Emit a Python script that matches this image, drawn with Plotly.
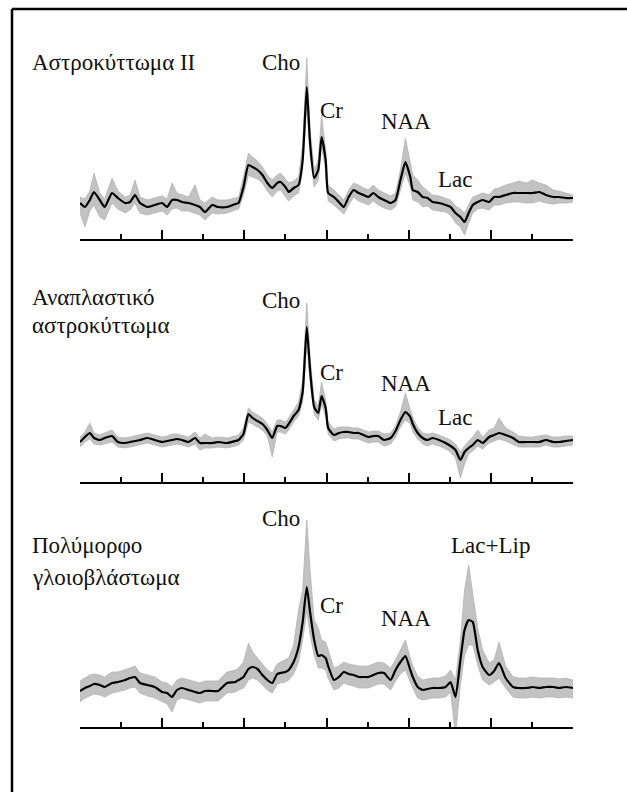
import plotly.graph_objects as go

# chemical shift (ppm) sampling positions, shared by the three spectra
PPM = [6.00, 5.94, 5.88, 5.83, 5.76, 5.70, 5.61, 5.54, 5.45, 5.39,
       5.33, 5.27, 5.18, 5.09, 5.00, 4.94, 4.88, 4.82, 4.76, 4.68,
       4.60, 4.54, 4.48, 4.39, 4.32, 4.21, 4.11, 4.07, 4.01, 3.95,
       3.90, 3.84, 3.78, 3.72, 3.66, 3.60, 3.56, 3.50, 3.46, 3.40,
       3.34, 3.29, 3.24, 3.20, 3.15, 3.10, 3.06, 3.01, 2.98, 2.91,
       2.85, 2.79, 2.73, 2.67, 2.61, 2.55, 2.49, 2.43, 2.37, 2.30,
       2.22, 2.16, 2.10, 2.04, 1.98, 1.95, 1.89, 1.83, 1.77, 1.71,
       1.63, 1.55, 1.49, 1.43, 1.37, 1.32, 1.27, 1.22, 1.16, 1.10,
       1.02, 0.96, 0.90, 0.82, 0.73, 0.66, 0.57, 0.49, 0.41, 0.33,
       0.24, 0.17, 0.09, 0.00]

# Panel 1: Αστροκύττωμα II (fitted / smoothed spectrum and raw-noise envelope)
P1_FIT = [2, -2, 5, 13, 5, -2, 12, 7, 2, 3,
          10, 2, -2, 0, 2, -2, 5, 5, 3, 2,
          0, -2, -7, 0, -2, -2, 1, 2, 18, 40,
          38, 35, 30, 22, 17, 22, 23, 18, 13, 17,
          20, 45, 118, 62, 27, 35, 68, 45, 12, 8,
          3, -2, 8, 15, 12, 10, 8, 12, 8, 5,
          2, 5, 25, 43, 28, 15, 13, 8, 7, 3,
          2, 0, -2, -8, -12, -17, -8, 0, 3, 5,
          3, 8, 8, 10, 12, 12, 12, 12, 13, 10,
          8, 8, 7, 7]
P1_HI = [8, 6, 14, 32, 12, 6, 27, 14, 8, 10,
         25, 8, 5, 7, 9, 6, 22, 12, 10, 8,
         20, 5, 2, 8, 5, 5, 7, 8, 28, 52,
         48, 44, 38, 30, 25, 30, 32, 26, 22, 24,
         28, 60, 147, 75, 35, 45, 90, 55, 20, 15,
         10, 5, 15, 22, 20, 17, 15, 20, 15, 12,
         9, 12, 35, 67, 40, 30, 25, 18, 14, 10,
         9, 7, 5, -1, -4, -8, 0, 8, 10, 12,
         10, 16, 17, 20, 22, 24, 22, 25, 22, 20,
         15, 14, 12, 10]
P1_LO = [-8, -22, -6, 0, -12, -15, 2, -4, -8, -5,
         2, -8, -10, -8, -6, -10, -4, -3, -6, -6,
         -8, -10, -15, -8, -9, -8, -5, -4, 10, 30,
         28, 26, 22, 14, 8, 14, 15, 8, 4, 9,
         12, 35, 100, 50, 18, 25, 58, 35, 4, 0,
         -5, -9, 0, 8, 4, 2, 0, 4, 0, -3,
         -5, -2, 16, 32, 18, 5, 3, -2, -1, -5,
         -6, -7, -10, -18, -22, -30, -18, -8, -4, -3,
         -5, 0, 0, 2, 3, 3, 2, 2, 4, 2,
         1, 2, 2, 3]

# Panel 2: Αναπλαστικό αστροκύττωμα
P2_FIT = [0, 5, 9, 4, 2, 4, 6, 0, -1, 0,
          1, 2, 4, 2, 0, 1, 2, 3, 2, 0,
          4, -1, -1, -1, 0, -1, 1, 2, 8, 28,
          24, 21, 18, 12, 4, 16, 16, 14, 18, 26,
          32, 50, 115, 72, 35, 29, 46, 34, 14, 7,
          9, 10, 10, 9, 9, 7, 5, 6, 6, 2,
          4, 11, 22, 30, 25, 18, 9, 4, 2, 4,
          2, -1, -4, -8, -18, -10, -6, -3, 2, -1,
          5, 7, 9, 7, 4, 0, 0, 0, 0, 2,
          0, 0, 1, 2]
P2_HI = [5, 10, 19, 9, 7, 9, 12, 5, 4, 5,
         6, 7, 9, 7, 5, 6, 8, 8, 7, 5,
         10, 4, 8, 4, 5, 4, 6, 7, 14, 34,
         30, 27, 24, 18, 10, 22, 22, 20, 24, 32,
         40, 62, 139, 85, 42, 36, 60, 42, 20, 13,
         15, 15, 15, 14, 14, 12, 10, 11, 11, 8,
         9, 16, 30, 49, 33, 24, 15, 9, 8, 9,
         7, 4, 2, -2, -10, -4, 0, 5, 12, 5,
         12, 14, 24, 14, 10, 6, 5, 5, 6, 7,
         5, 5, 6, 6]
P2_LO = [-5, 0, 3, -2, -3, -2, 0, -5, -6, -5,
         -4, -3, -1, -3, -5, -4, -3, -2, -3, -5,
         -2, -8, -6, -6, -5, -6, -4, -3, 2, 20,
         18, 15, 12, 6, -15, 10, 10, 8, 12, 20,
         26, 40, 100, 60, 28, 22, 38, 26, 8, 1,
         3, 4, 4, 3, 3, 1, -1, 0, 0, -4,
         -2, 5, 15, 22, 18, 10, 3, -2, -4, -2,
         -4, -7, -10, -16, -36, -22, -12, -9, -4, -7,
         -1, 1, 3, 1, -2, -5, -5, -5, -5, -3,
         -5, -5, -4, -3]

# Panel 3: Πολύμορφο γλοιοβλάστωμα
P3_FIT = [-1, 2, 4, 6, 5, 3, 7, 8, 10, 12,
          13, 7, 5, 3, -2, -3, -7, 0, 2, 0,
          -2, -3, -1, -1, -1, 7, 8, 10, 13, 21,
          23, 21, 15, 10, 7, 16, 17, 18, 20, 28,
          43, 68, 103, 78, 50, 34, 35, 32, 24, 10,
          13, 18, 16, 15, 13, 13, 13, 15, 17, 17,
          10, 20, 28, 34, 20, 13, 3, 0, 1, 2,
          2, 3, 8, -7, 30, 60, 70, 68, 40, 23,
          15, 19, 27, 12, 3, 2, 2, 3, 2, 3,
          3, 2, 3, 2]
P3_HI = [9, 12, 15, 16, 15, 13, 18, 18, 20, 22,
         24, 17, 15, 13, 8, 7, 3, 10, 12, 10,
         8, 7, 9, 9, 9, 18, 20, 22, 28, 47,
         38, 32, 26, 20, 17, 26, 28, 30, 32, 45,
         80, 100, 170, 120, 70, 62, 50, 48, 40, 22,
         24, 28, 26, 25, 24, 24, 24, 26, 28, 27,
         22, 30, 40, 50, 32, 24, 14, 10, 11, 12,
         12, 14, 20, 10, 50, 100, 125, 95, 62, 40,
         27, 30, 48, 24, 13, 12, 12, 13, 12, 12,
         12, 11, 12, 10]
P3_LO = [-12, -8, -6, -4, -5, -7, -3, -2, 0, 2,
         3, -3, -6, -8, -12, -14, -22, -10, -8, -10,
         -12, -13, -11, -11, -11, -3, -2, 0, 2, 10,
         12, 10, 5, 0, -3, 6, 7, 8, 10, 16,
         28, 50, 80, 55, 35, 22, 22, 20, 12, 0,
         2, 7, 5, 4, 2, 2, 2, 4, 6, 6,
         0, 9, 16, 20, 8, 2, -8, -10, -9, -8,
         -8, -7, -2, -45, 5, 35, 45, 45, 25, 10,
         5, 8, 12, 2, -7, -8, -8, -7, -8, -7,
         -7, -8, -7, -8]

TITLES = [["Αστροκύττωμα II"],
          ["Αναπλαστικό", "αστροκύττωμα"],
          ["Πολύμορφο", "γλοιοβλάστωμα"]]
PEAK_LABELS = [["Cho", "Cr", "NAA", "Lac"],
               ["Cho", "Cr", "NAA", "Lac"],
               ["Cho", "Cr", "NAA", "Lac+Lip"]]

SERIES = [(P1_FIT, P1_HI, P1_LO), (P2_FIT, P2_HI, P2_LO), (P3_FIT, P3_HI, P3_LO)]

# ---------------- layout helpers (pixel -> paper) ----------------
W, H = 627, 792


def fx(x):
    return x / W


def fy(y):
    return 1 - y / H


# per panel: (axis pixel row, top pixel row, y-range)
PANELS = [(239, 50, [-34, 155]), (482, 290, [-40, 152]), (727, 515, [-37, 175])]
TITLE_ROWS = [[62], [297, 325], [545, 577]]
LABEL_POS = [[(281, 62), (331, 111), (406, 121), (455, 179)],
             [(281, 300), (332, 372), (406, 383), (455, 417)],
             [(281, 518), (332, 605), (406, 618), (490, 545)]]

GREY = "#b4b4b4"
FONT = dict(family="Liberation Serif", size=23, color="#111111")

fig = go.Figure()
layout = dict(width=W, height=H, margin=dict(l=0, r=0, t=0, b=0),
              paper_bgcolor="white", plot_bgcolor="rgba(0,0,0,0)",
              showlegend=False, annotations=[], shapes=[])

for k, (fit, hi, lo) in enumerate(SERIES):
    sx = "" if k == 0 else str(k + 1)
    xa, ya = "x" + sx, "y" + sx
    fig.add_trace(go.Scatter(x=PPM, y=lo, xaxis=xa, yaxis=ya, mode="lines",
                             line=dict(width=0.8, color=GREY), hoverinfo="skip"))
    fig.add_trace(go.Scatter(x=PPM, y=hi, xaxis=xa, yaxis=ya, mode="lines",
                             line=dict(width=0.8, color=GREY), fill="tonexty",
                             fillcolor="#c2c2c2", hoverinfo="skip"))
    fig.add_trace(go.Scatter(x=PPM, y=fit, xaxis=xa, yaxis=ya, mode="lines",
                             line=dict(width=2.2, color="#000000", shape="spline",
                                       smoothing=0.5)))
    axis_row, top_row, yr = PANELS[k]
    layout["xaxis" + sx] = dict(domain=[fx(80), fx(573)], anchor=ya, range=[6, 0],
                                showgrid=False, zeroline=False, showline=True,
                                linecolor="black", linewidth=2,
                                ticks="inside", ticklen=9, tickwidth=2, tickcolor="black",
                                dtick=1, tick0=0, showticklabels=False,
                                minor=dict(ticks="inside", ticklen=5, tickwidth=2,
                                           tickcolor="black", dtick=0.5, showgrid=False))
    layout["yaxis" + sx] = dict(domain=[fy(axis_row), fy(top_row)], anchor=xa,
                                range=yr, visible=False)
    for text, row in zip(TITLES[k], TITLE_ROWS[k]):
        layout["annotations"].append(dict(text=text, x=fx(30), y=fy(row), xref="paper",
                                          yref="paper", xanchor="left", yanchor="middle",
                                          showarrow=False, font=FONT))
    for text, (lx, ly) in zip(PEAK_LABELS[k], LABEL_POS[k]):
        layout["annotations"].append(dict(text=text, x=fx(lx), y=fy(ly), xref="paper",
                                          yref="paper", xanchor="center", yanchor="middle",
                                          showarrow=False, font=FONT))

# outer frame (top and left edges)
layout["shapes"].append(dict(type="line", xref="paper", yref="paper",
                             x0=fx(12), x1=1.0, y0=fy(9), y1=fy(9),
                             line=dict(color="black", width=2.5)))
layout["shapes"].append(dict(type="line", xref="paper", yref="paper",
                             x0=fx(12), x1=fx(12), y0=0, y1=fy(9),
                             line=dict(color="black", width=2.5)))

fig.update_layout(**layout)
fig.write_html("out.html", config={"displayModeBar": False},
               post_script="document.body.style.margin='0px';")
